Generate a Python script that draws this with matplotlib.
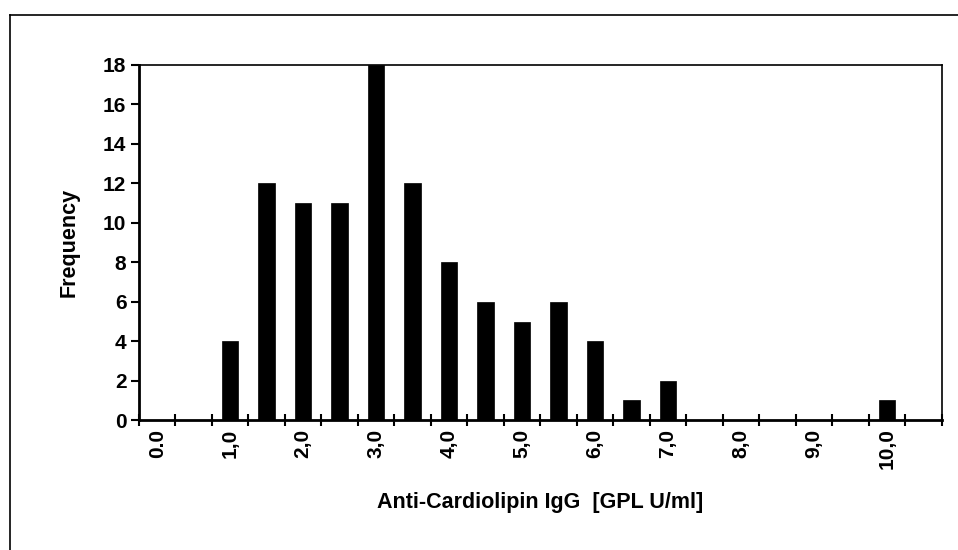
import numpy as np
import matplotlib.pyplot as plt
from matplotlib.lines import Line2D

# histogram bins (0.0 .. 10.5 in steps of 0.5) and counts
bins = [0.0, 0.5, 1.0, 1.5, 2.0, 2.5, 3.0, 3.5, 4.0, 4.5, 5.0, 5.5,
        6.0, 6.5, 7.0, 7.5, 8.0, 8.5, 9.0, 9.5, 10.0, 10.5]
counts = [0, 0, 4, 12, 11, 11, 18, 12, 8, 6, 5, 6, 4, 1, 2, 0, 0, 0, 0, 0, 1, 0]
tick_labels = ["0.0", "1,0", "2,0", "3,0", "4,0", "5,0",
               "6,0", "7,0", "8,0", "9,0", "10,0"]

plt.rcParams["font.family"] = ["Liberation Sans", "DejaVu Sans"]
plt.rcParams["font.weight"] = "bold"
plt.rcParams["font.size"] = 15

fig = plt.figure(figsize=(9.58, 5.5), dpi=100)
ax = fig.add_axes([0.145, 0.236, 0.838, 0.646])

x = np.arange(len(bins))
ax.bar(x, counts, width=0.45, color="black", edgecolor="black", linewidth=0.5)

ax.set_xlim(-0.5, len(bins) - 0.5)
ax.set_ylim(0, 18)
ax.set_yticks(np.arange(0, 19, 2))

# labels on every other bin, tick marks on bin boundaries
ax.set_xticks(x[::2])
ax.set_xticklabels(tick_labels, rotation=90, fontweight="bold")
ax.set_xticks(np.arange(-0.5, len(bins), 1.0), minor=True)
ax.tick_params(axis="x", which="major", length=0, pad=6)
ax.tick_params(axis="x", which="minor", direction="inout", length=9, width=1.5)
ax.tick_params(axis="y", direction="out", length=6, width=1.5, pad=3)
for lab in ax.get_yticklabels():
    lab.set_fontweight("bold")

for side in ["left", "bottom"]:
    ax.spines[side].set_linewidth(2)
for side in ["top", "right"]:
    ax.spines[side].set_linewidth(1.2)

ax.set_xlabel("Anti-Cardiolipin IgG  [GPL U/ml]", fontsize=15.5,
              fontweight="bold", labelpad=16)
ax.set_ylabel("Frequency", fontsize=15.5, fontweight="bold", labelpad=17)

# partial frame of the chart area (top and left edges)
fig.add_artist(Line2D([10 / 958, 1.0], [1 - 15 / 550, 1 - 15 / 550],
                      transform=fig.transFigure, color="black", linewidth=1.2))
fig.add_artist(Line2D([10 / 958, 10 / 958], [0.0, 1 - 15 / 550],
                      transform=fig.transFigure, color="black", linewidth=1.2))

fig.savefig("out.png", dpi=100)
